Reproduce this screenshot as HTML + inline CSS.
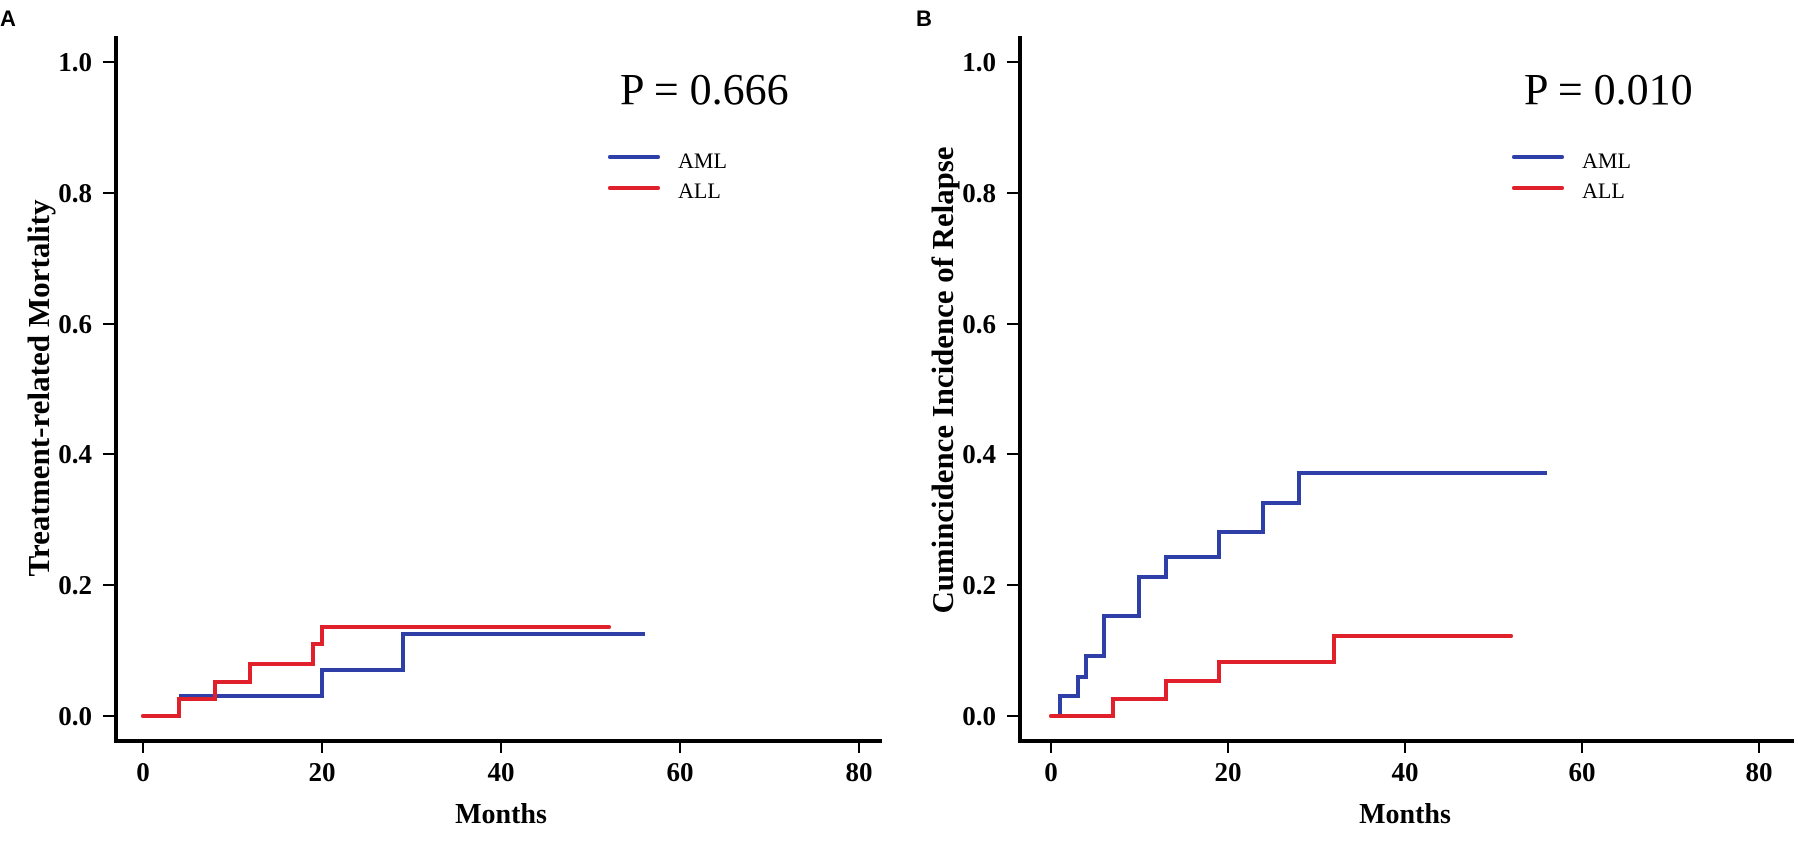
<!DOCTYPE html>
<html><head><meta charset="utf-8"><style>html,body{margin:0;padding:0;background:#fff;}svg{display:block}</style></head>
<body>
<svg width="1798" height="842" viewBox="0 0 1798 842" xmlns="http://www.w3.org/2000/svg">
<g font-family="Liberation Serif, serif" fill="#000">
<!-- Panel A -->
<text x="0" y="26" font-family="Liberation Sans, sans-serif" font-weight="bold" font-size="22">A</text>
<g stroke="#000" stroke-width="4" fill="none">
<line x1="116" y1="36" x2="116" y2="743"/>
<line x1="114" y1="741" x2="882" y2="741"/>
</g>
<g stroke="#000" stroke-width="2">
<line x1="103" y1="62" x2="116" y2="62"/><line x1="103" y1="193" x2="116" y2="193"/><line x1="103" y1="324" x2="116" y2="324"/>
<line x1="103" y1="454" x2="116" y2="454"/><line x1="103" y1="585" x2="116" y2="585"/><line x1="103" y1="716" x2="116" y2="716"/>
<line x1="143" y1="741" x2="143" y2="753"/><line x1="322" y1="741" x2="322" y2="753"/><line x1="501" y1="741" x2="501" y2="753"/>
<line x1="680" y1="741" x2="680" y2="753"/><line x1="859" y1="741" x2="859" y2="753"/>
</g>
<g font-weight="bold" font-size="27" text-anchor="end">
<text x="92" y="71">1.0</text><text x="92" y="202">0.8</text><text x="92" y="333">0.6</text>
<text x="92" y="463">0.4</text><text x="92" y="594">0.2</text><text x="92" y="725">0.0</text>
</g>
<g font-weight="bold" font-size="27" text-anchor="middle">
<text x="143" y="781">0</text><text x="322" y="781">20</text><text x="501" y="781">40</text><text x="680" y="781">60</text><text x="859" y="781">80</text>
</g>
<text x="501" y="823" font-weight="bold" font-size="28" text-anchor="middle">Months</text>
<text transform="translate(49,388) rotate(-90)" font-weight="bold" font-size="31" text-anchor="middle" textLength="377" lengthAdjust="spacingAndGlyphs">Treatment-related Mortality</text>
<text x="620" y="104" font-size="44">P = 0.666</text>
<line x1="610" y1="157" x2="658" y2="157" stroke="#2e3fa8" stroke-width="4" stroke-linecap="round"/>
<line x1="610" y1="188" x2="658" y2="188" stroke="#e0202a" stroke-width="4" stroke-linecap="round"/>
<text x="678" y="168" font-size="22">AML</text>
<text x="678" y="198" font-size="22">ALL</text>
<polyline fill="none" stroke="#2e3fa8" stroke-width="4" points="179,696 322,696 322,670 403,670 403,634 645,634"/>
<polyline fill="none" stroke="#e0202a" stroke-width="4" stroke-linecap="round" points="143,716 179,716 179,699 215,699 215,682 250,682 250,664 313,664 313,644 322,644 322,627 609,627"/>

<!-- Panel B -->
<text x="916" y="26" font-family="Liberation Sans, sans-serif" font-weight="bold" font-size="22">B</text>
<g stroke="#000" stroke-width="4" fill="none">
<line x1="1020" y1="36" x2="1020" y2="743"/>
<line x1="1018" y1="741" x2="1794" y2="741"/>
</g>
<g stroke="#000" stroke-width="2">
<line x1="1007" y1="62" x2="1020" y2="62"/><line x1="1007" y1="193" x2="1020" y2="193"/><line x1="1007" y1="324" x2="1020" y2="324"/>
<line x1="1007" y1="454" x2="1020" y2="454"/><line x1="1007" y1="585" x2="1020" y2="585"/><line x1="1007" y1="716" x2="1020" y2="716"/>
<line x1="1051" y1="741" x2="1051" y2="753"/><line x1="1228" y1="741" x2="1228" y2="753"/><line x1="1405" y1="741" x2="1405" y2="753"/>
<line x1="1582" y1="741" x2="1582" y2="753"/><line x1="1759" y1="741" x2="1759" y2="753"/>
</g>
<g font-weight="bold" font-size="27" text-anchor="end">
<text x="996" y="71">1.0</text><text x="996" y="202">0.8</text><text x="996" y="333">0.6</text>
<text x="996" y="463">0.4</text><text x="996" y="594">0.2</text><text x="996" y="725">0.0</text>
</g>
<g font-weight="bold" font-size="27" text-anchor="middle">
<text x="1051" y="781">0</text><text x="1228" y="781">20</text><text x="1405" y="781">40</text><text x="1582" y="781">60</text><text x="1759" y="781">80</text>
</g>
<text x="1405" y="823" font-weight="bold" font-size="28" text-anchor="middle">Months</text>
<text transform="translate(953,380) rotate(-90)" font-weight="bold" font-size="31" text-anchor="middle" textLength="467" lengthAdjust="spacingAndGlyphs">Cumincidence Incidence of Relapse</text>
<text x="1524" y="104" font-size="44">P = 0.010</text>
<line x1="1514" y1="157" x2="1562" y2="157" stroke="#2e3fa8" stroke-width="4" stroke-linecap="round"/>
<line x1="1514" y1="188" x2="1562" y2="188" stroke="#e0202a" stroke-width="4" stroke-linecap="round"/>
<text x="1582" y="168" font-size="22">AML</text>
<text x="1582" y="198" font-size="22">ALL</text>
<polyline fill="none" stroke="#2e3fa8" stroke-width="4" points="1051,716 1060,716 1060,696 1078,696 1078,677 1086,677 1086,656 1104,656 1104,616 1139,616 1139,577 1166,577 1166,557 1219,557 1219,532 1263,532 1263,503 1299,503 1299,473 1547,473"/>
<polyline fill="none" stroke="#e0202a" stroke-width="4" stroke-linecap="round" points="1051,716 1113,716 1113,699 1166,699 1166,681 1219,681 1219,662 1334,662 1334,636 1511,636"/>
</g>
</svg>
</body></html>
